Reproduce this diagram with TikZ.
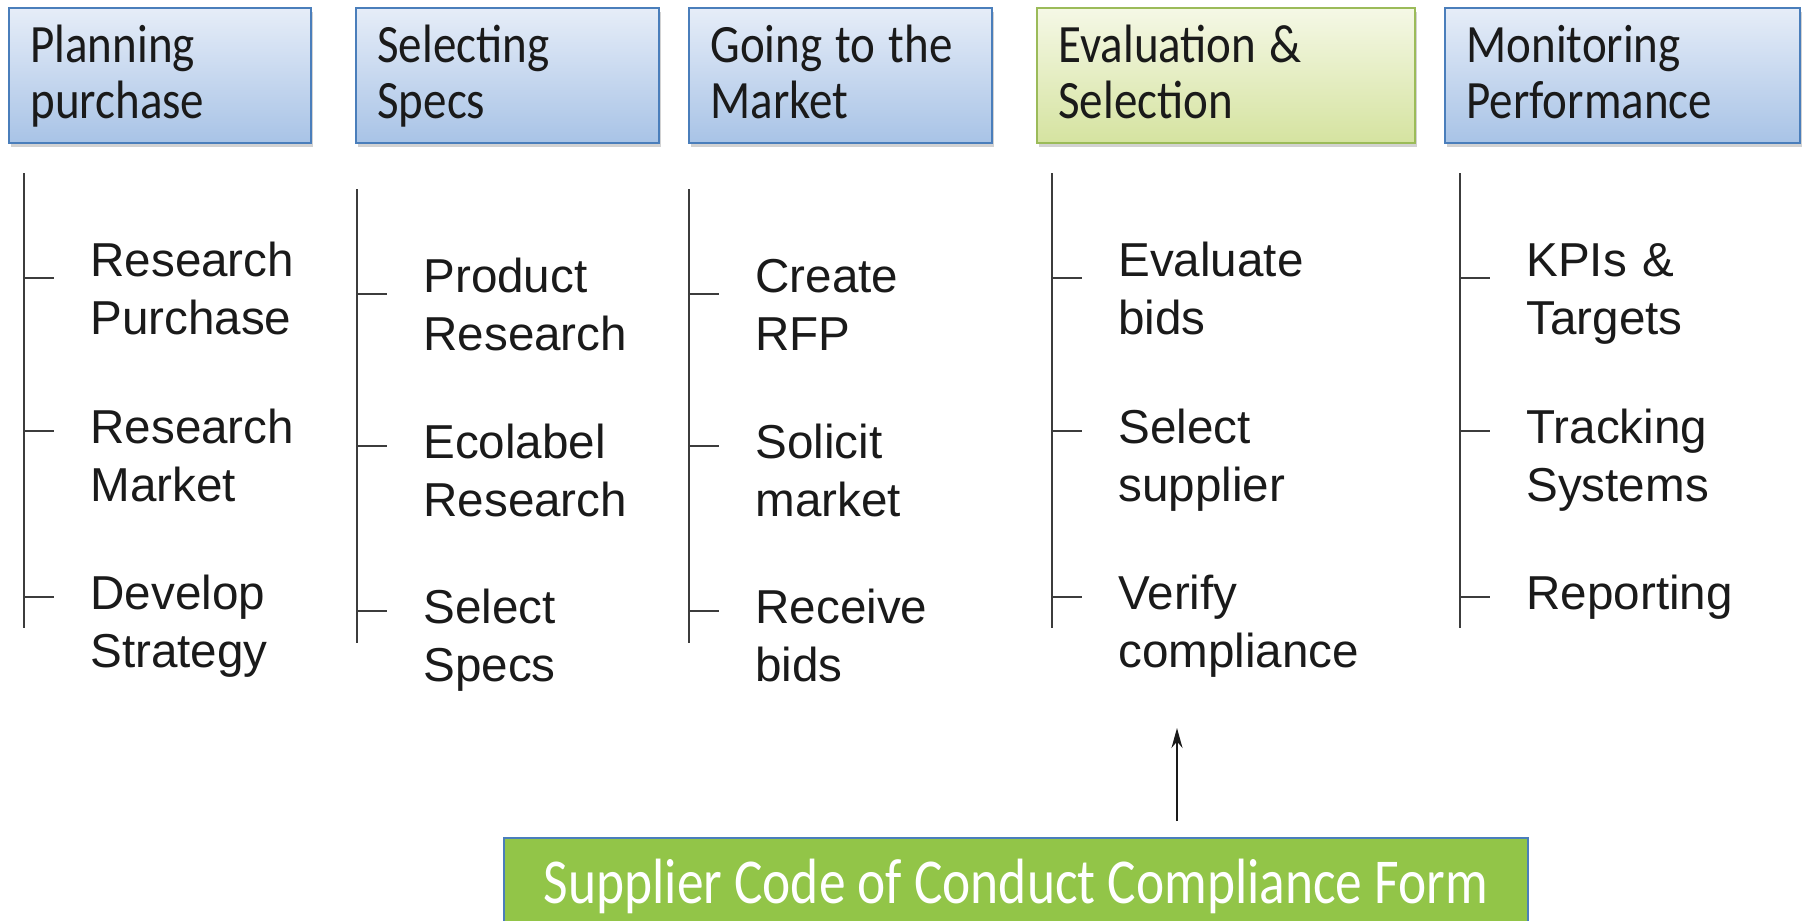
\documentclass[tikz,border=0pt]{standalone}
\usepackage{fontspec}
\setmainfont{Liberation Sans}
\newfontfamily\hdrfont[FakeStretch=0.87]{Carlito}
\newfontfamily\formfont[FakeStretch=0.835]{Carlito}
\usetikzlibrary{shadows,arrows.meta}
\definecolor{hdrtop}{HTML}{E6EDF8}
\definecolor{hdrbot}{HTML}{A8C3E6}
\definecolor{hdrline}{HTML}{4A7EBB}
\definecolor{evtop}{HTML}{F5F8E6}
\definecolor{evbot}{HTML}{D5E3A0}
\definecolor{evline}{HTML}{9BBB59}
\definecolor{formfill}{HTML}{92C548}
\definecolor{ink}{HTML}{1A1A1A}
\definecolor{rule}{HTML}{3C3C3C}
\newcommand{\hsp}{\hspace{6.6pt}}
\tikzset{
  hdr/.style={draw=hdrline, line width=1pt, top color=hdrtop, bottom color=hdrbot,
    minimum height=67.5pt, inner sep=0pt,
    drop shadow={shadow xshift=1.2pt, shadow yshift=-2pt, opacity=0.35}},
  evhdr/.style={hdr, draw=evline, top color=evtop, bottom color=evbot},
  hdrtext/.style={anchor=base west, inner sep=0pt, text width=180pt, align=left,
    font=\hdrfont\fontsize{27}{28}\selectfont, text=ink},
  item/.style={anchor=base west, inner sep=0pt, text width=130pt, align=left,
    font=\fontsize{23.8}{29}\selectfont, text=ink},
  stem/.style={draw=rule, line width=1pt},
  formbox/.style={draw=hdrline, line width=1pt, fill=formfill, minimum width=512pt,
    minimum height=46pt, inner sep=0pt},
  formtext/.style={anchor=base, inner sep=0pt, text=white,
    font=\formfont\fontsize{32}{34}\selectfont},
  arr/.style={draw=ink, line width=1pt, -{Stealth[length=10pt,width=5.5pt]}}
}
\begin{document}
\begin{tikzpicture}[x=0.5pt,y=-0.5pt]
\useasboundingbox (0,0) rectangle (1806,921);
\clip (0,0) rectangle (1806,921);
\fill[white] (0,0) rectangle (1806,921);
% headers
\node[hdr, minimum width=151pt] (h1) at (160,75.5) {};
\node[hdr, minimum width=151.5pt] (h2) at (507.5,75.5) {};
\node[hdr, minimum width=151.5pt] (h3) at (840.5,75.5) {};
\node[evhdr, minimum width=189pt] (h4) at (1226,75.5) {};
\node[hdr, minimum width=177.5pt] (h5) at (1622.5,75.5) {};
\node[hdrtext] (h1t) at (30,62) {Planning\\purchase};
\node[hdrtext] (h2t) at (377,62) {Selecting\\Specs};
\node[hdrtext] (h3t) at (710,62) {Going\hsp to\hsp the\\Market};
\node[hdrtext] (h4t) at (1058,62) {Evaluation\hsp\&\\Selection};
\node[hdrtext] (h5t) at (1466,62) {Monitoring\\Performance};
% stems and ticks
\foreach \n/\x/\t/\b/\ya/\yb/\yc in {1/24/173/628/278/431/597, 2/357/189/643/294/446/611,
  3/689/189/643/294/446/611, 4/1052/173/628/278/431/597, 5/1460/173/628/278/431/597}{
  \coordinate (top\n) at (\x,\t);
  \coordinate (bot\n) at (\x,\b);
  \draw[stem] (top\n) -- (bot\n);
  \draw[stem] (\x,\ya) -- ++(30,0);
  \draw[stem] (\x,\yb) -- ++(30,0);
  \draw[stem] (\x,\yc) -- ++(30,0);
}
% items
\node[item] (a1) at (90,276) {Research\\Purchase};
\node[item] (a2) at (90,443) {Research\\Market};
\node[item] (a3) at (90,609) {Develop\\Strategy};
\node[item] (b1) at (423,292) {Product\\Research};
\node[item] (b2) at (423,458) {Ecolabel\\Research};
\node[item] (b3) at (423,623) {Select\\Specs};
\node[item] (c1) at (755,292) {Create\\RFP};
\node[item] (c2) at (755,458) {Solicit\\market};
\node[item] (c3) at (755,623) {Receive\\bids};
\node[item] (d1) at (1118,276) {Evaluate\\bids};
\node[item] (d2) at (1118,443) {Select\\supplier};
\node[item] (d3) at (1118,609) {Verify\\compliance};
\node[item] (e1) at (1526,276) {KPIs \&\\Targets};
\node[item] (e2) at (1526,443) {Tracking\\Systems};
\node[item] (e3) at (1526,609) {Reporting};
% bottom form
\node[formbox] (form) at (1016,884) {};
\node[formtext] (formt) at (1016,903) {Supplier Code of Conduct Compliance Form};
\coordinate (tip) at (1177,728);
\draw[arr, shorten <=8pt] ([xshift=80.5pt]form.north) -- (tip);
\end{tikzpicture}
\end{document}
